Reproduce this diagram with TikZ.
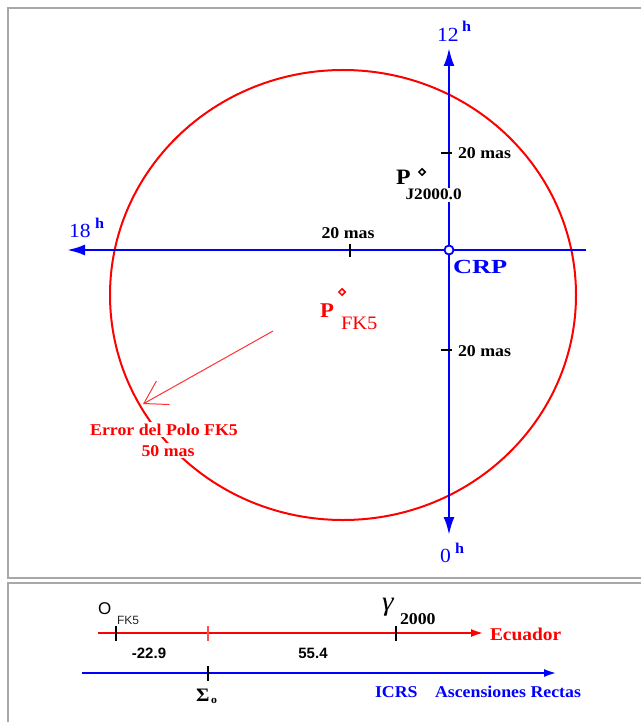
\documentclass[tikz,border=0pt]{standalone}
\usepackage{fontspec}
\setmainfont{Liberation Serif}[FakeStretch=1.08]
\newfontfamily\sansf{Liberation Sans}
\usetikzlibrary{arrows.meta,shapes.geometric}
\definecolor{axblue}{RGB}{0,0,255}
\definecolor{errred}{RGB}{255,0,0}
\definecolor{framegray}{RGB}{168,168,168}
\begin{document}
\begin{tikzpicture}[x=1pt,y=-1pt,
  framel/.style={draw=framegray,line width=2pt},
  axisl/.style={draw=axblue,line width=2.5pt},
  axtip/.style={-{Latex[length=18pt,width=11pt]}},
  tickl/.style={draw=black,line width=2pt},
  txt/.style={inner sep=0pt,outer sep=0pt},
  masl/.style={txt,font=\fontsize{16.5}{18}\selectfont\bfseries},
  hour/.style={txt,text=axblue,font=\fontsize{20}{22}\selectfont},
  hsup/.style={txt,text=axblue,font=\fontsize{15}{16}\selectfont\bfseries},
  pmark/.style={diamond,draw,line width=1.5pt,minimum size=7pt,inner sep=0pt,fill=white}]
\useasboundingbox (0,0) rectangle (640,722);
\fill[white] (0,0) rectangle (640,722);
% frames
\draw[framel] (641,8) -- (8,8) -- (8,578) -- (641,578);
\draw[framel] (641,583) -- (8,583) -- (8,723);

% error circle
\coordinate (errc) at (343,295);
\draw[draw=errred,line width=2pt] (errc) ellipse [x radius=233pt, y radius=225pt];

% axes
\coordinate (ytop) at (449,48);
\coordinate (ybot) at (449,535);
\coordinate (xleft) at (67,250);
\coordinate (xright) at (586,250);
\draw[axisl,{Latex[length=18pt,width=11pt]}-{Latex[length=18pt,width=11pt]}] (ytop) -- (ybot);
\draw[axisl,axtip] (xright) -- (xleft);

% ticks
\coordinate (tx1a) at (350,244); \coordinate (tx1b) at (350,257);
\draw[tickl] (tx1a) -- (tx1b);
\coordinate (ty1a) at (441,153); \coordinate (ty1b) at (452,153);
\draw[tickl] (ty1a) -- (ty1b);
\coordinate (ty2a) at (441,350); \coordinate (ty2b) at (452,350);
\draw[tickl] (ty2a) -- (ty2b);

\node[masl,anchor=base] (m1) at (348,238) {20 mas};
\node[masl,anchor=base west] (m2) at (458,159) {20 mas};
\node[masl,anchor=base west] (m3) at (458,356) {20 mas};

% CRP
\node[circle,draw=axblue,fill=white,line width=1.8pt,minimum size=9pt,inner sep=0pt] (crp) at (449,250) {};
\node[txt,anchor=base west,text=axblue,font=\fontsize{20}{22}\selectfont\bfseries] (crpl) at (453,273) {\scalebox{1.22}[1]{CRP}};

% hour labels
\node[hour,anchor=base west] (h12) at (437,42) {12};
\node[hsup,anchor=base west] (h12s) at (462,32) {h};
\node[hour,anchor=base west] (h18) at (69,237) {18};
\node[hsup,anchor=base west] (h18s) at (95,228) {h};
\node[hour,anchor=base west] (h0) at (440,562) {0};
\node[hsup,anchor=base west] (h0s) at (455,553) {h};

% P J2000.0
\node[pmark,draw=black] (pj) at (422,172) {};
\node[txt,anchor=base west,font=\fontsize{22}{24}\selectfont\bfseries] (pjl) at (396,185) {P};
\node[txt,anchor=base west,fill=white,inner sep=1.5pt,font=\fontsize{16}{18}\selectfont\bfseries] (pjs) at (404,200) {J2000.0};

% P FK5
\node[pmark,draw=errred] (pf) at (342,292) {};
\node[txt,anchor=base west,text=errred,font=\fontsize{21}{24}\selectfont\bfseries] (pfl) at (320,317) {P};
\node[txt,anchor=base west,text=errred,font=\fontsize{19}{21}\selectfont] (pfs) at (341,329) {FK5};

% error pointer
\coordinate (ea) at (273,331);
\coordinate (eb) at (143,404);
\draw[draw=errred!80,line width=1pt,-{Straight Barb[length=22pt,width=27pt,line width=1pt]}] (ea) -- (eb);
\node[txt,anchor=base,fill=white,inner sep=2pt,text=errred,font=\fontsize{16.5}{18}\selectfont\bfseries] (el1) at (164,435) {Error del Polo FK5};
\node[txt,anchor=base,fill=white,inner sep=2pt,text=errred,font=\fontsize{16.5}{18}\selectfont\bfseries] (el2) at (168,456) {50 mas};

% bottom panel
\coordinate (ra) at (98,633);
\coordinate (rb) at (484,633);
\draw[draw=errred,line width=2.5pt,-{Latex[length=13pt,width=8pt]}] (ra) -- (rb);
\coordinate (ba) at (82,673);
\coordinate (bb) at (557,673);
\draw[draw=axblue,line width=2.5pt,-{Latex[length=13pt,width=8pt]}] (ba) -- (bb);

\coordinate (t1a) at (116,626); \coordinate (t1b) at (116,641);
\draw[draw=black,line width=1.6pt] (t1a) -- (t1b);
\coordinate (t2a) at (208,626); \coordinate (t2b) at (208,641);
\draw[draw=errred!70,line width=1.6pt] (t2a) -- (t2b);
\coordinate (t3a) at (396,626); \coordinate (t3b) at (396,641);
\draw[draw=black,line width=1.6pt] (t3a) -- (t3b);
\coordinate (t4a) at (208,666); \coordinate (t4b) at (208,681);
\draw[draw=black,line width=1.6pt] (t4a) -- (t4b);

\node[txt,anchor=base west,font=\fontsize{17}{18}\sansf] (ofk) at (98,614) {O};
\node[txt,anchor=base west,text=black!85,font=\fontsize{12}{13}\sansf] (ofks) at (117,624) {FK5};
\node[txt,anchor=base west,font=\fontsize{27}{28}\selectfont\itshape] (gam) at (382,610) {γ};
\node[txt,anchor=base west,font=\fontsize{16.5}{18}\selectfont\bfseries] (gams) at (400,624) {2000};
\node[txt,anchor=base,font=\fontsize{15}{17}\sansf\bfseries] (v1) at (149,658) {-22.9};
\node[txt,anchor=base,font=\fontsize{15}{17}\sansf\bfseries] (v2) at (313,658) {55.4};
\node[txt,anchor=base west,text=errred,font=\fontsize{18}{20}\selectfont\bfseries] (ecu) at (490,640) {Ecuador};
\node[txt,anchor=base west,font=\fontsize{19}{20}\selectfont\bfseries] (sig) at (196,701) {Σ};
\node[txt,anchor=base west,font=\fontsize{11}{12}\selectfont\bfseries] (sigs) at (211,703) {o};
\node[txt,anchor=base west,text=axblue,font=\fontsize{16.5}{18}\selectfont\bfseries] (icrs) at (375,697) {ICRS};
\node[txt,anchor=base west,text=axblue,font=\fontsize{16.5}{18}\selectfont\bfseries] (asc) at (435,697) {Ascensiones Rectas};
\end{tikzpicture}
\end{document}
